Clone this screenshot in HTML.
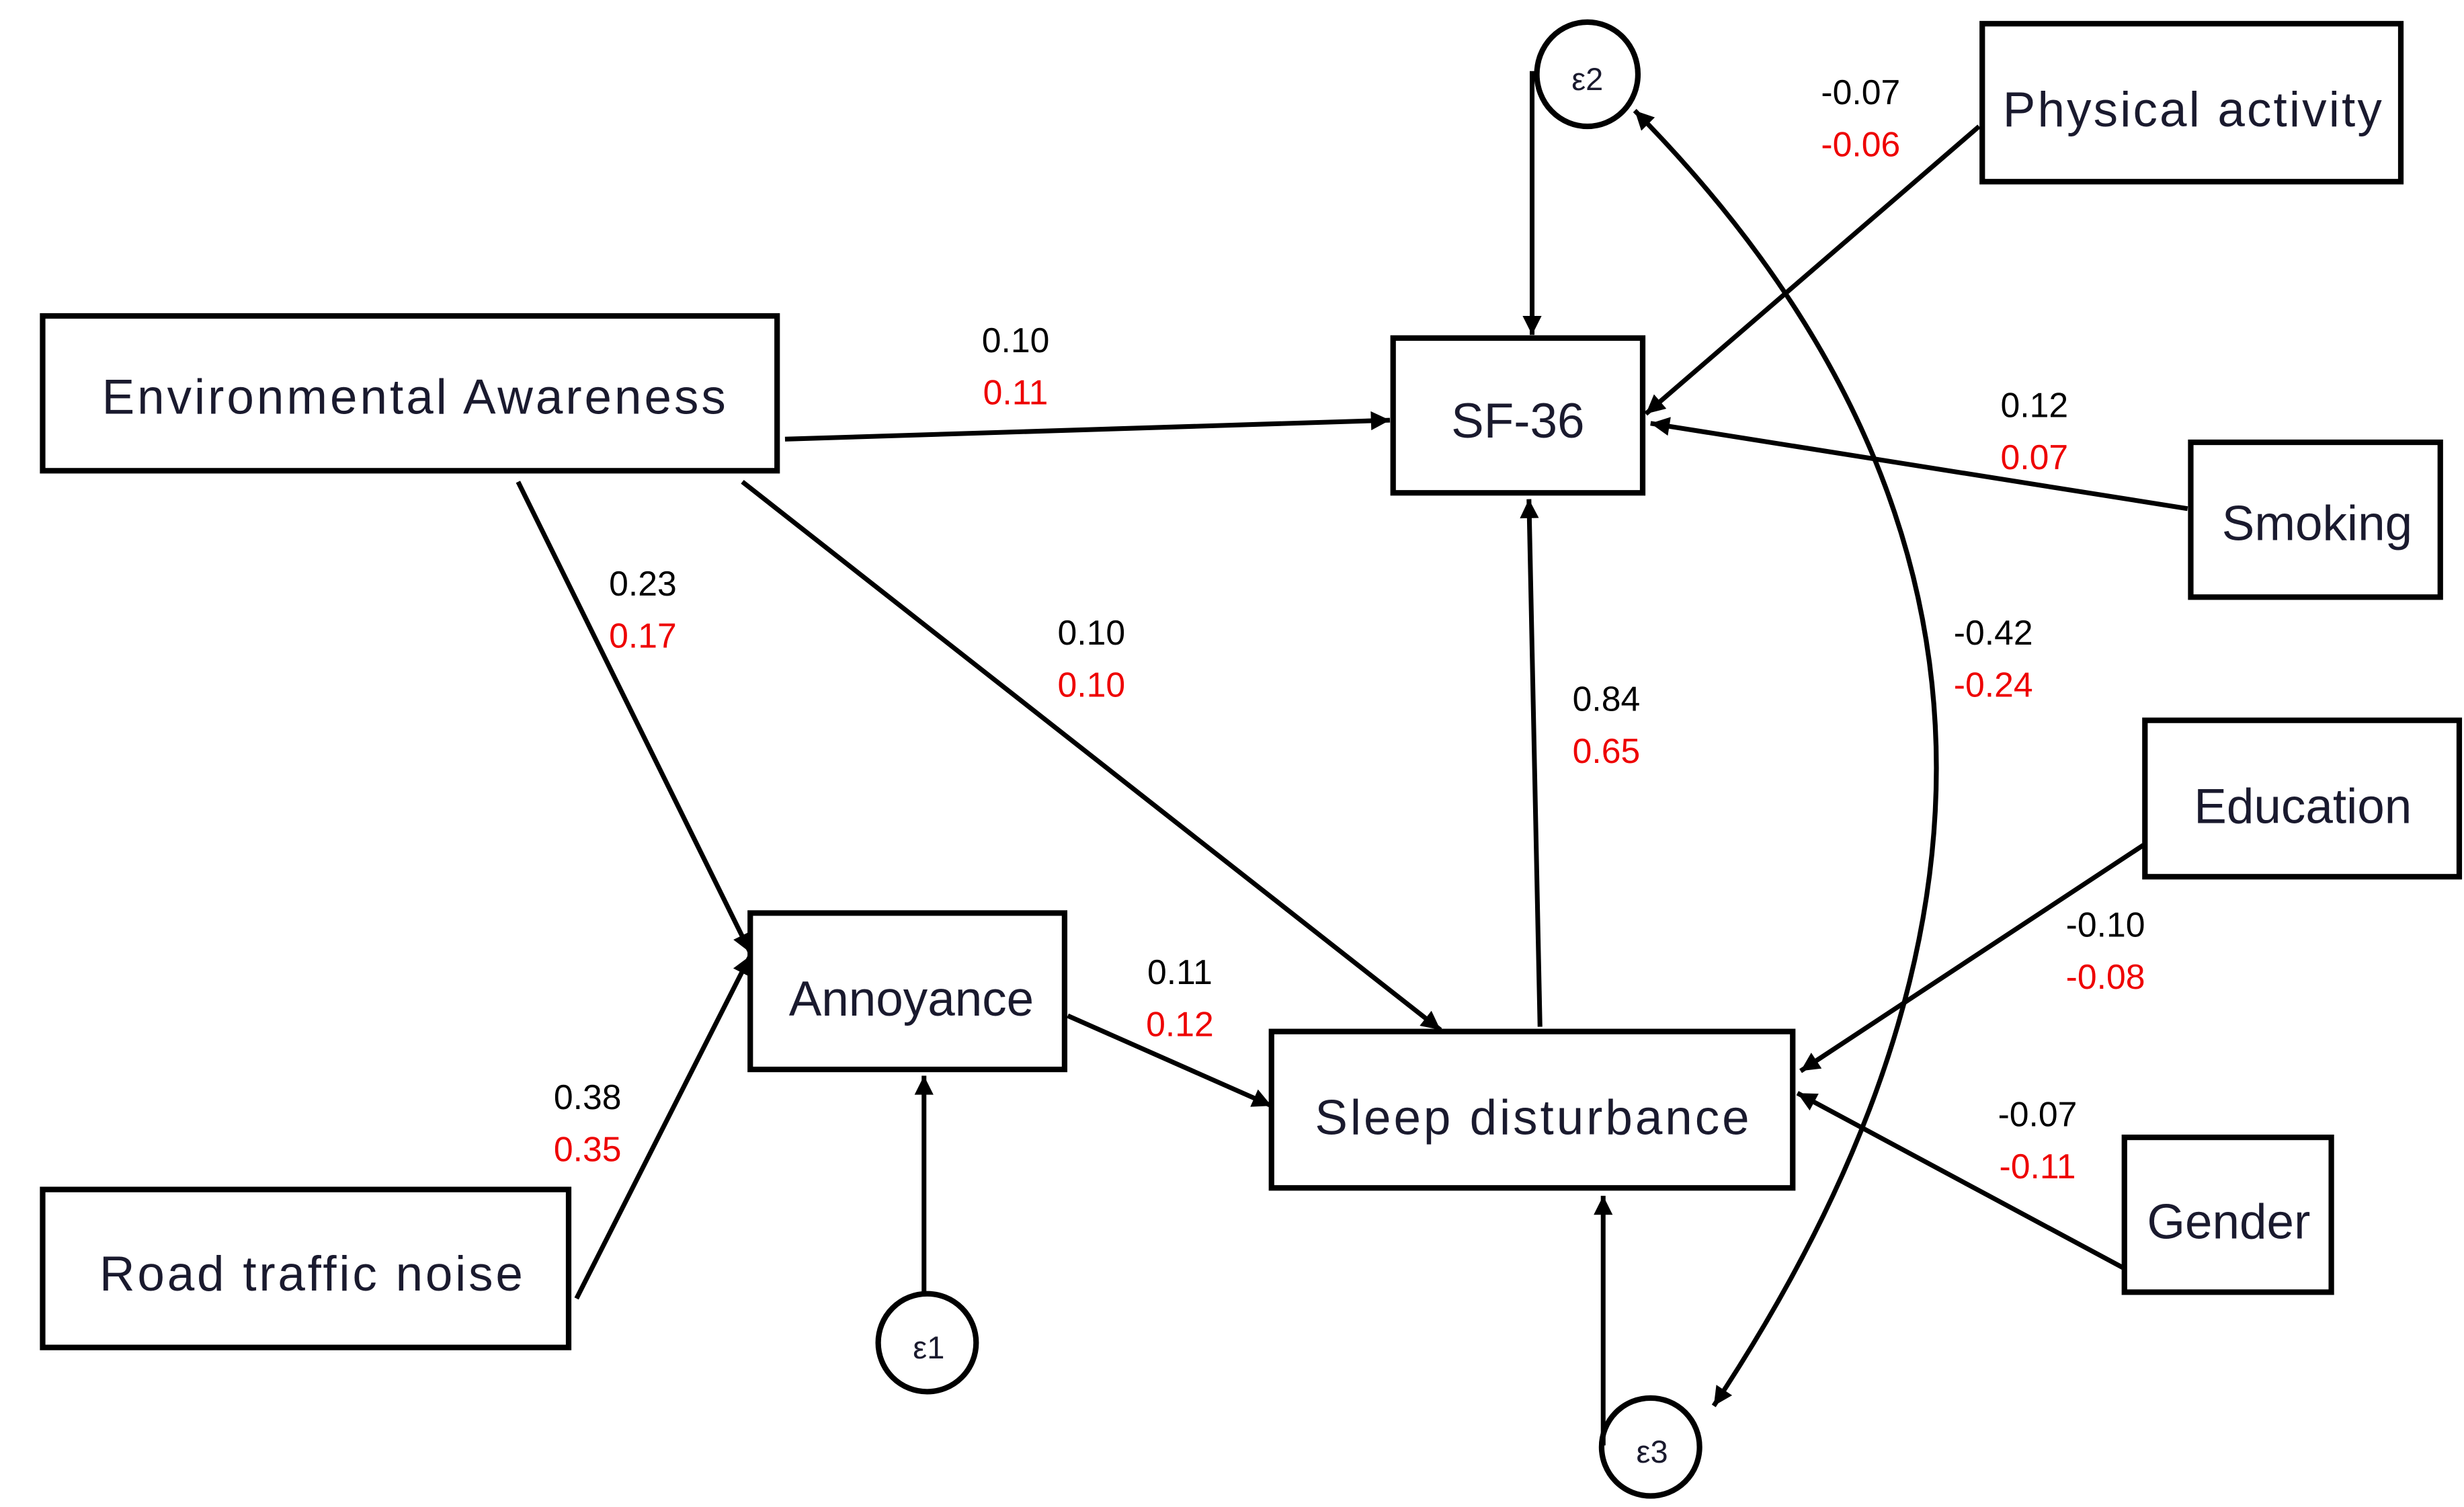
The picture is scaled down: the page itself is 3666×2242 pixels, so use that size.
<!DOCTYPE html>
<html><head><meta charset="utf-8"><style>html,body{margin:0;padding:0;background:#fff}svg{display:block}</style></head>
<body>
<svg width="3666" height="2242" viewBox="0 0 1560 954" preserveAspectRatio="none" xmlns="http://www.w3.org/2000/svg">
<defs>
<marker id="a" viewBox="0 0 10 10" refX="10" refY="5" markerWidth="7" markerHeight="7" markerUnits="userSpaceOnUse" orient="auto-start-reverse"><path d="M0,0 L10,5 L0,10 z" fill="#000"/></marker>
<marker id="b" viewBox="0 0 10 10" refX="10" refY="5" markerWidth="16" markerHeight="12" orient="auto-start-reverse" markerUnits="userSpaceOnUse"><path d="M0,0 L10,5 L0,10 z" fill="#000"/></marker>
</defs>
<g fill="none" stroke="#000" stroke-width="3.5">
<rect x="27" y="200" width="465" height="98"/>
<rect x="882" y="214" width="158" height="98"/>
<rect x="1255" y="15" width="265" height="100"/>
<rect x="1387" y="280" width="158" height="98"/>
<rect x="1358" y="456" width="199" height="99"/>
<rect x="1345" y="720" width="131" height="98"/>
<rect x="805" y="653" width="330" height="99"/>
<rect x="475" y="578" width="199" height="99"/>
<rect x="27" y="753" width="333" height="100"/>
<ellipse cx="1005" cy="47" rx="32" ry="33"/>
<ellipse cx="587" cy="850" rx="31" ry="31"/>
<ellipse cx="1045" cy="916" rx="31" ry="31"/>
</g>
<g fill="none" stroke="#000" stroke-width="3" marker-end="url(#b)">
<line x1="497" y1="278" x2="880" y2="266"/>
<line x1="470" y1="305" x2="912" y2="652"/>
<line x1="328" y1="305" x2="475" y2="603"/>
<line x1="365" y1="822" x2="475" y2="605"/>
<line x1="676" y1="643" x2="805" y2="700"/>
<line x1="585" y1="818" x2="585" y2="681"/>
<line x1="975" y1="650" x2="968" y2="316"/>
<line x1="970" y1="45" x2="970" y2="212"/>
<line x1="1253" y1="80" x2="1042" y2="262"/>
<line x1="1385" y1="322" x2="1045" y2="268"/>
<line x1="1357" y1="535" x2="1140" y2="678"/>
<line x1="1345" y1="803" x2="1138" y2="692"/>
<polyline points="1015,915 1015,757"/>
<path d="M1035,70 Q1390,430 1085,890" marker-start="url(#b)"/>
</g>
<g font-family="Liberation Sans, Arial, sans-serif" font-size="31" fill="#1a1a2e" text-anchor="middle">
<text x="262" y="262" textLength="395">Environmental Awareness</text>
<text x="961" y="277">SF-36</text>
<text x="1388" y="80" textLength="240">Physical activity</text>
<text x="1467" y="342">Smoking</text>
<text x="1458" y="521">Education</text>
<text x="1411" y="784">Gender</text>
<text x="970" y="718" textLength="275">Sleep disturbance</text>
<text x="577" y="643">Annoyance</text>
<text x="197" y="817" textLength="268">Road traffic noise</text>
<text x="1005" y="57" font-size="20">ε2</text>
<text x="588" y="860" font-size="20">ε1</text>
<text x="1046" y="926" font-size="20">ε3</text>
</g>
<g font-family="Liberation Sans, Arial, sans-serif" font-size="22" text-anchor="middle">
<text x="643" y="223">0.10</text><text x="643" y="256" fill="#e00">0.11</text>
<text x="407" y="377">0.23</text><text x="407" y="410" fill="#e00">0.17</text>
<text x="691" y="408">0.10</text><text x="691" y="441" fill="#e00">0.10</text>
<text x="1017" y="450">0.84</text><text x="1017" y="483" fill="#e00">0.65</text>
<text x="747" y="623">0.11</text><text x="747" y="656" fill="#e00">0.12</text>
<text x="372" y="702">0.38</text><text x="372" y="735" fill="#e00">0.35</text>
<text x="1178" y="66">-0.07</text><text x="1178" y="99" fill="#e00">-0.06</text>
<text x="1288" y="264">0.12</text><text x="1288" y="297" fill="#e00">0.07</text>
<text x="1262" y="408">-0.42</text><text x="1262" y="441" fill="#e00">-0.24</text>
<text x="1333" y="593">-0.10</text><text x="1333" y="626" fill="#e00">-0.08</text>
<text x="1290" y="713">-0.07</text><text x="1290" y="746" fill="#e00">-0.11</text>
</g>
</svg>
</body></html>
